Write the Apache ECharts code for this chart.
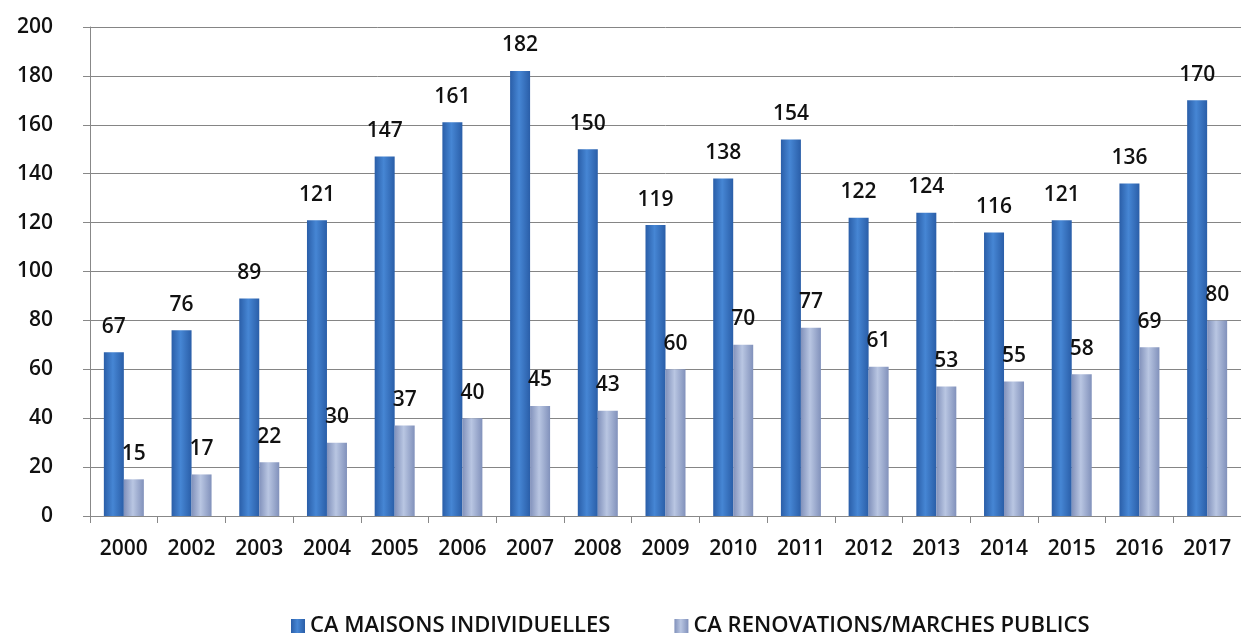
<!DOCTYPE html>
<html>
<head>
<meta charset="utf-8">
<script src="https://cdn.jsdelivr.net/npm/echarts@6/dist/echarts.min.js"></script>
<style>
  html, body { margin: 0; padding: 0; background: #fff; }
  #chart { width: 1241px; height: 639px; }
</style>
</head>
<body>
<div id="chart"></div>
<script>
var years = ['2000','2002','2003','2004','2005','2006','2007','2008','2009','2010','2011','2012','2013','2014','2015','2016','2017']
var maisons = [67,76,89,121,147,161,182,150,119,138,154,122,124,116,121,136,170]
var renovations = [15,17,22,30,37,40,45,43,60,70,77,61,53,55,58,69,80]
var yTicks = {min: 0, max: 200, step: 20}

var font = '"Open Sans", "Noto Sans", sans-serif'

// degrade horizontal pour faire un effet "cylindre" comme dans Excel
function cyl(edge, mid){
  return new echarts.graphic.LinearGradient(0, 0, 1, 0, [
    {offset: 0, color: edge},
    {offset: 0.45, color: mid},
    {offset: 1, color: edge}
  ])
}

var labelStyle = {
  show: true,
  position: 'top',
  distance: 15,
  color: '#111',
  fontFamily: font,
  fontWeight: 600,
  fontSize: 21
}

var chart = echarts.init(document.getElementById('chart'))
chart.setOption({
  animation: false,
  grid: {left: 90, top: 27, width: 1158, bottom: 123, containLabel: false},
  legend: {
    bottom: 2,
    left: 291,
    padding: 0,
    itemWidth: 14,
    itemHeight: 14,
    itemGap: 64,
    icon: 'rect',
    textStyle: {fontFamily: font, fontSize: 22, fontWeight: 600, color: '#111'},
    data: ['CA MAISONS INDIVIDUELLES', 'CA RENOVATIONS/MARCHES PUBLICS']
  },
  xAxis: {
    type: 'category',
    data: years,
    axisLine: {lineStyle: {color: '#888', width: 1}},
    axisTick: {show: true, length: 7, lineStyle: {color: '#888'}},
    axisLabel: {margin: 23, color: '#111', fontFamily: font, fontWeight: 600, fontSize: 21}
  },
  yAxis: {
    type: 'value',
    min: yTicks.min,
    max: yTicks.max,
    interval: yTicks.step,
    axisLine: {show: true, lineStyle: {color: '#888'}},
    axisTick: {show: true, inside: false, length: 7, lineStyle: {color: '#888'}},
    splitLine: {lineStyle: {color: '#858585', width: 1}},
    axisLabel: {margin: 37, color: '#111', fontFamily: font, fontWeight: 600, fontSize: 21}
  },
  series: [
    {
      name: 'CA MAISONS INDIVIDUELLES',
      type: 'bar',
      data: maisons,
      barWidth: 20,
      barGap: '0%',
      itemStyle: {color: cyl('#2a5ea8', '#4686d4')},
      label: labelStyle
    },
    {
      name: 'CA RENOVATIONS/MARCHES PUBLICS',
      type: 'bar',
      data: renovations,
      barWidth: 20,
      itemStyle: {color: cyl('#8191bb', '#b9c6e2')},
      label: labelStyle
    }
  ]
})
</script>
</body>
</html>
